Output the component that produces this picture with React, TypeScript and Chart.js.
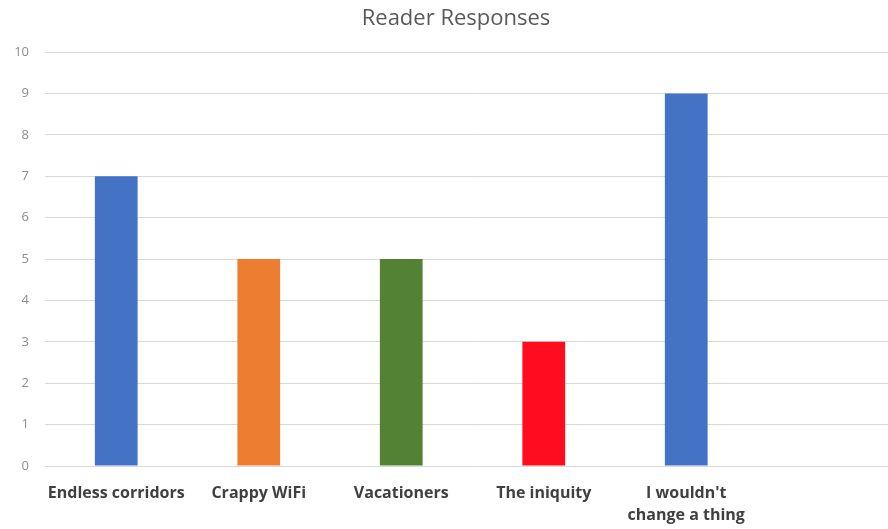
import React, { useEffect, useRef } from "react";
import { Chart, registerables } from "chart.js";

Chart.register(...registerables);

const categories: (string | string[])[] = [
  "Endless corridors",
  "Crappy WiFi",
  "Vacationers",
  "The iniquity",
  ["I wouldn't", "change a thing"],
  "",
];
const responses: (number | null)[] = [7, 5, 5, 3, 9, null];
const barColors = ["#4472C4", "#ED7D31", "#548235", "#FF0D1F", "#4472C4", "#4472C4"];
const yTicks = [0, 1, 2, 3, 4, 5, 6, 7, 8, 9, 10];

export default function App() {
  const ref = useRef<HTMLCanvasElement | null>(null);
  useEffect(() => {
    document.documentElement.style.overflow = "hidden";
    document.body.style.overflow = "hidden";
    if (!ref.current) return;
    const chart = new Chart(ref.current, {
      type: "bar",
      data: {
        labels: categories,
        datasets: [
          {
            data: responses,
            backgroundColor: barColors,
            categoryPercentage: 1,
            barPercentage: 0.3,
          },
        ],
      },
      options: {
        animation: false,
        responsive: false,
        maintainAspectRatio: false,
        layout: { padding: { left: 4, right: 12, top: 0, bottom: 0 } },
        plugins: {
          legend: { display: false },
          tooltip: { enabled: false },
          title: {
            display: true,
            text: "Reader Responses",
            color: "#595959",
            font: { family: "Open Sans", size: 22, weight: "normal", lineHeight: 1 },
            padding: { top: 0, bottom: 22 },
          },
        },
        scales: {
          x: {
            grid: { display: false, drawTicks: false },
            border: { display: false },
            ticks: {
              color: "#404040",
              font: { family: "Open Sans", size: 16, weight: "bold", lineHeight: 1.375 },
              padding: 16,
              maxRotation: 0,
              autoSkip: false,
            },
            afterFit: (axis: any) => {
              axis.height = 63;
            },
          },
          y: {
            min: 0,
            max: 10,
            afterBuildTicks: (axis: any) => {
              axis.ticks = yTicks.map((v) => ({ value: v }));
            },
            grid: { color: "#d9d9d9", drawTicks: false, lineWidth: 1 },
            border: { display: false },
            ticks: {
              color: "#8c8c8c",
              font: { family: "Open Sans", size: 13 },
              padding: 16,
            },
            afterFit: (axis: any) => {
              axis.width = 33;
            },
          },
        },
      },
    });
    return () => chart.destroy();
  }, []);
  return (
    <div
      style={{
        position: "fixed",
        left: 0,
        top: 0,
        width: 888,
        height: 529,
        overflow: "hidden",
        background: "#ffffff",
      }}
    >
      <canvas
        ref={ref}
        width={904}
        height={521}
        style={{ position: "absolute", left: 8, top: 8, display: "block" }}
      />
    </div>
  );
}
